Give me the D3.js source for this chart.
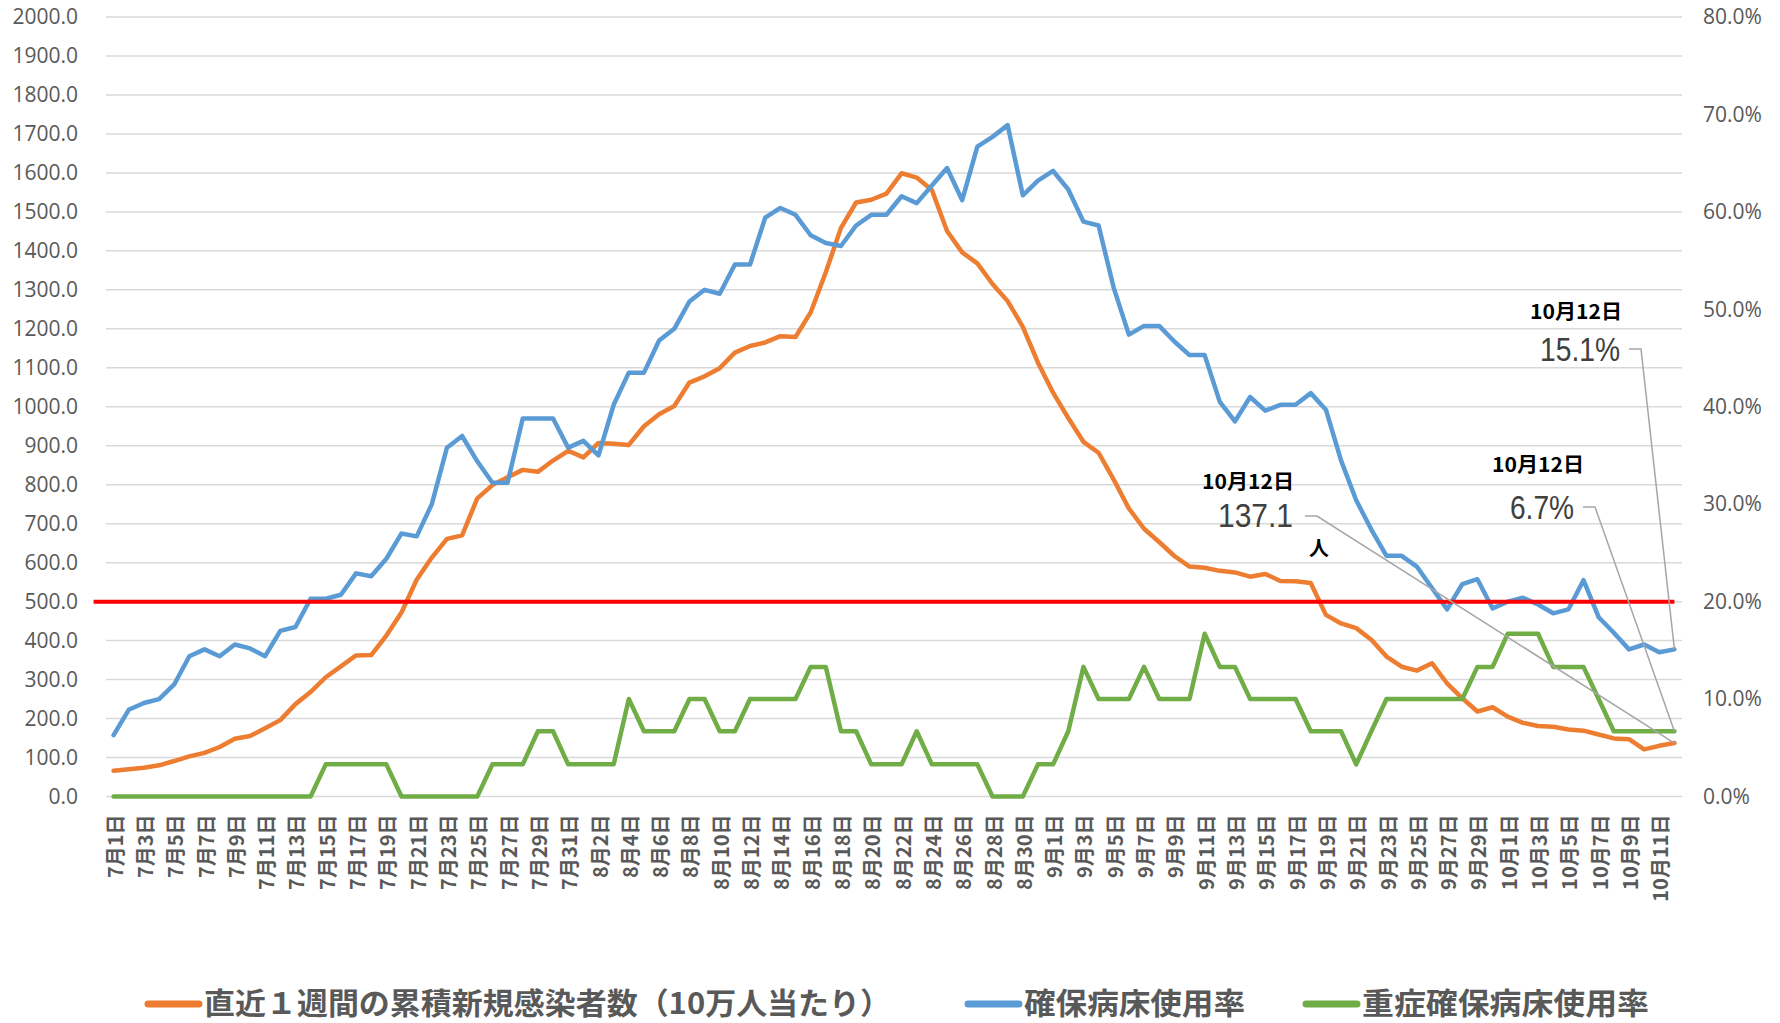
<!DOCTYPE html>
<html lang="ja">
<head>
<meta charset="utf-8">
<script src="https://cdn.jsdelivr.net/npm/d3@7"></script>
<style>
  body { margin: 0; background: #fff; }
  svg { display: block; }
</style>
</head>
<body>
<svg id="chart" width="1780" height="1023"></svg>
<script>
// categories: 7/1 .. 10/12
const dates = d3.timeDay.range(new Date(2021, 6, 1), new Date(2021, 9, 13))
  .map(d3.timeFormat("%-m月%-d日"));

// 直近1週間の累積新規感染者数（10万人当たり） - left axis
const infections = [66, 70, 74, 80, 91, 103, 112, 127, 148, 155,
  175, 196, 237, 268, 306, 334, 362, 363, 413, 472,
  556, 613, 661, 670, 765, 799, 819, 838, 833, 862,
  887, 870, 907, 905, 902, 950, 981, 1002, 1062, 1078,
  1099, 1139, 1156, 1165, 1181, 1179, 1242, 1345, 1459, 1524,
  1531, 1547, 1599, 1588, 1556, 1451, 1396, 1368, 1315, 1271,
  1205, 1113, 1036, 971, 910, 882, 813, 739, 687, 653,
  617, 590, 587, 579, 575, 564, 571, 553, 552, 548,
  466, 444, 432, 402, 359, 333, 323, 342, 290, 252,
  218, 229, 205, 189, 181, 179, 172, 169, 159, 149,
  147, 121, 130, 137.1];

// 確保病床使用率 (%) - right axis
const bedRate = [6.3, 8.9, 9.6, 10.0, 11.5, 14.4, 15.1, 14.4, 15.6, 15.2,
  14.4, 17.0, 17.4, 20.3, 20.3, 20.7, 22.9, 22.6, 24.4, 27.0,
  26.7, 30.0, 35.8, 37.0, 34.4, 32.2, 32.2, 38.8, 38.8, 38.8,
  35.8, 36.5, 35.0, 40.2, 43.5, 43.5, 46.8, 48.0, 50.8, 52.0,
  51.6, 54.6, 54.6, 59.4, 60.4, 59.7, 57.6, 56.8, 56.5, 58.6,
  59.7, 59.7, 61.6, 60.9, 62.7, 64.5, 61.2, 66.7, 67.7, 68.9,
  61.7, 63.2, 64.2, 62.3, 59.0, 58.6, 52.2, 47.4, 48.3, 48.3,
  46.7, 45.3, 45.3, 40.5, 38.5, 41.0, 39.6, 40.2, 40.2, 41.4,
  39.7, 34.5, 30.4, 27.4, 24.7, 24.7, 23.6, 21.4, 19.2, 21.8,
  22.3, 19.3, 20.0, 20.4, 19.7, 18.8, 19.2, 22.2, 18.4, 16.8,
  15.1, 15.6, 14.8, 15.1];

// 重症確保病床使用率 (%) - right axis
const severeRate = [0, 0, 0, 0, 0, 0, 0, 0, 0, 0,
  0, 0, 0, 0, 3.3, 3.3, 3.3, 3.3, 3.3, 0,
  0, 0, 0, 0, 0, 3.3, 3.3, 3.3, 6.7, 6.7,
  3.3, 3.3, 3.3, 3.3, 10.0, 6.7, 6.7, 6.7, 10.0, 10.0,
  6.7, 6.7, 10.0, 10.0, 10.0, 10.0, 13.3, 13.3, 6.7, 6.7,
  3.3, 3.3, 3.3, 6.7, 3.3, 3.3, 3.3, 3.3, 0, 0,
  0, 3.3, 3.3, 6.7, 13.3, 10.0, 10.0, 10.0, 13.3, 10.0,
  10.0, 10.0, 16.7, 13.3, 13.3, 10.0, 10.0, 10.0, 10.0, 6.7,
  6.7, 6.7, 3.3, 6.7, 10.0, 10.0, 10.0, 10.0, 10.0, 10.0,
  13.3, 13.3, 16.7, 16.7, 16.7, 13.3, 13.3, 13.3, 10.0, 6.7,
  6.7, 6.7, 6.7, 6.7];

const leftTicks = d3.range(0, 2001, 100);
const rightTicks = d3.range(0, 81, 10);
const threshold = 500;

const seriesNames = ["直近１週間の累積新規感染者数（10万人当たり）", "確保病床使用率", "重症確保病床使用率"];
const colors = ["#ED7D31", "#5B9BD5", "#70AD47"];

const svg = d3.select("#chart");
const numFont = "'Open Sans', 'Noto Sans', sans-serif";
const jpFont = "'Noto Sans CJK JP', 'Noto Sans', sans-serif";

const x = d3.scaleBand().domain(dates).range([106, 1682]);
const yL = d3.scaleLinear().domain([0, 2000]).range([796.5, 17]);
const yR = d3.scaleLinear().domain([0, 80]).range([796.5, 17]);
const cx = d => x(d) + x.bandwidth() / 2;

// gridlines
svg.append("g")
  .selectAll("line")
  .data(leftTicks)
  .enter()
  .append("line")
  .attr("x1", 106)
  .attr("x2", 1682)
  .attr("y1", d => yL(d))
  .attr("y2", d => yL(d))
  .attr("stroke", "#d9d9d9")
  .attr("stroke-width", 1.5);

// left axis
const leftAxis = svg.append("g")
  .attr("transform", "translate(84,0)")
  .call(d3.axisLeft(yL).tickValues(leftTicks).tickFormat(d3.format(".1f")).tickSize(0).tickPadding(6));
leftAxis.select(".domain").remove();
leftAxis.selectAll("text")
  .style("font-family", numFont)
  .style("font-size", "21px")
  .attr("fill", "#595959");

// right axis
const rightAxis = svg.append("g")
  .attr("transform", "translate(1697,0)")
  .call(d3.axisRight(yR).tickValues(rightTicks).tickFormat(d => d.toFixed(1) + "%").tickSize(0).tickPadding(6));
rightAxis.select(".domain").remove();
rightAxis.selectAll("text")
  .style("font-family", numFont)
  .style("font-size", "21px")
  .attr("fill", "#595959");

// x axis, every other day
const xAxis = svg.append("g")
  .attr("transform", `translate(0, ${yL(0)})`)
  .call(d3.axisBottom(x).tickValues(dates.filter((d, i) => i % 2 === 0)).tickSize(0));
xAxis.select(".domain").remove();
xAxis.selectAll("text")
  .attr("transform", "rotate(-90)")
  .attr("x", -18)
  .attr("y", 2)
  .attr("dy", "0.35em")
  .style("text-anchor", "end")
  .style("font-family", jpFont)
  .style("font-size", "20px")
  .style("font-weight", "700")
  .attr("fill", "#595959");

// series
const lineL = d3.line().x((d, i) => cx(dates[i])).y(d => yL(d));
const lineR = d3.line().x((d, i) => cx(dates[i])).y(d => yR(d));

[[infections, lineL], [bedRate, lineR], [severeRate, lineR]].forEach(([vals, gen], k) => {
  svg.append("path")
    .datum(vals)
    .attr("d", gen)
    .attr("fill", "none")
    .attr("stroke", colors[k])
    .attr("stroke-width", 4.5)
    .attr("stroke-linejoin", "round")
    .attr("stroke-linecap", "round");
});

// 500 line
const lastDate = dates[dates.length - 1];
svg.append("line")
  .attr("x1", cx(dates[0]) - 20)
  .attr("x2", cx(lastDate))
  .attr("y1", yL(threshold))
  .attr("y2", yL(threshold))
  .attr("stroke", "#FF0000")
  .attr("stroke-width", 4);

// callouts for the last day
const last = dates.length - 1;
const callouts = [
  { head: [1248, 480], num: [1293, 527], numW: 75, text: "137.1", line: [[1305, 516], [1317, 516]], end: [cx(lastDate), yL(infections[last])], unit: "人" },
  { head: [1538, 463], num: [1574, 519], numW: 64, text: "6.7%", line: [[1583, 507], [1595, 507]], end: [cx(lastDate), yR(severeRate[last])] },
  { head: [1576, 310], num: [1620, 361], numW: 80, text: "15.1%", line: [[1629, 349], [1641, 349]], end: [cx(lastDate), yR(bedRate[last])] }
];

callouts.forEach(c => {
  svg.append("polyline")
    .attr("points", [...c.line, c.end].map(p => p.join(",")).join(" "))
    .attr("fill", "none")
    .attr("stroke", "#a6a6a6")
    .attr("stroke-width", 1.5);

  svg.append("text")
    .attr("x", c.head[0])
    .attr("y", c.head[1])
    .attr("text-anchor", "middle")
    .attr("dominant-baseline", "central")
    .attr("textLength", 92)
    .attr("lengthAdjust", "spacingAndGlyphs")
    .style("font-family", jpFont)
    .style("font-size", "20px")
    .style("font-weight", "700")
    .attr("fill", "#000")
    .text("10月12日");

  // number sits on its baseline
  svg.append("text")
    .attr("x", c.num[0] - c.numW)
    .attr("y", c.num[1])
    .attr("textLength", c.numW)
    .attr("lengthAdjust", "spacingAndGlyphs")
    .style("font-family", "'Liberation Sans', sans-serif")
    .style("font-size", "34px")
    .attr("fill", "#404040")
    .text(c.text);

  if (c.unit) {
    svg.append("text")
      .attr("x", 1319)
      .attr("y", 547)
      .attr("text-anchor", "middle")
      .attr("dominant-baseline", "central")
      .style("font-family", jpFont)
      .style("font-size", "20px")
      .style("font-weight", "700")
      .attr("fill", "#000")
      .text(c.unit);
  }
});

// legend
const legendX = [145, 965, 1303];
const legendW = [687, 221, 287];
const legend = svg.append("g").attr("transform", "translate(0,1001)");
seriesNames.forEach((name, k) => {
  legend.append("line")
    .attr("x1", legendX[k] + 3)
    .attr("x2", legendX[k] + 54)
    .attr("y1", 3)
    .attr("y2", 3)
    .attr("stroke", colors[k])
    .attr("stroke-width", 7)
    .attr("stroke-linecap", "round");
  legend.append("text")
    .attr("x", legendX[k] + 59)
    .attr("y", 0)
    .attr("dominant-baseline", "central")
    .attr("textLength", legendW[k])
    .attr("lengthAdjust", "spacingAndGlyphs")
    .style("font-family", jpFont)
    .style("font-size", "30px")
    .style("font-weight", "700")
    .attr("fill", "#595959")
    .text(name);
});
</script>
</body>
</html>
